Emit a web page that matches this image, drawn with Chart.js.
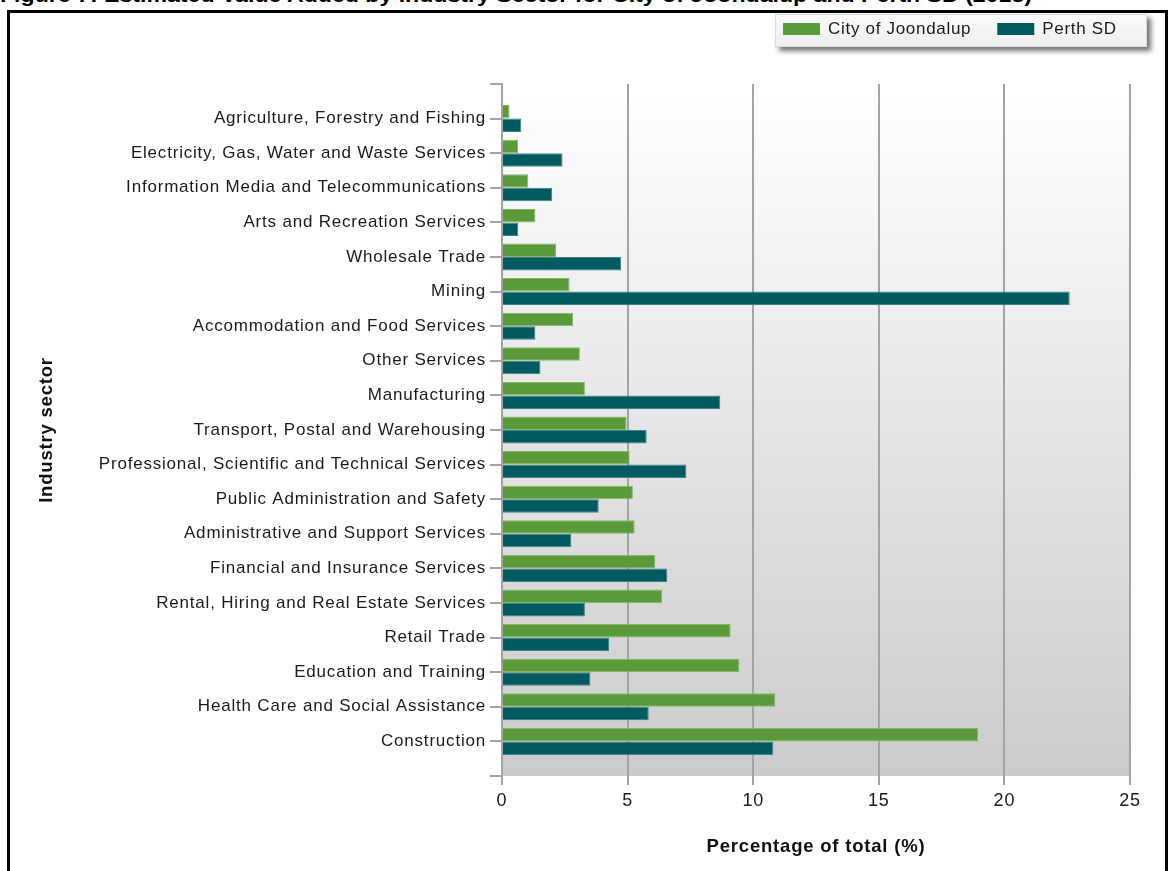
<!DOCTYPE html>
<html>
<head>
<meta charset="utf-8">
<title>Estimated Value Added by Industry Sector</title>
<script src="https://cdn.jsdelivr.net/npm/chart.js@4.4.1/dist/chart.umd.min.js"></script>
<style>
  html, body { margin: 0; padding: 0; background: #ffffff; }
  #wrap { position: relative; width: 1170px; height: 871px; overflow: hidden; }
  #heading {
    position: absolute; left: 0; top: -16px;
    font: bold 20px "Liberation Sans", Arial, sans-serif;
    white-space: nowrap; transform-origin: 0 0; color: #000;
  }
  #frame {
    position: absolute; left: 7px; top: 10px;
    width: 1155px; height: 900px; border: 3px solid #000;
  }
  #chart { position: absolute; left: 0; top: 0; }
</style>
</head>
<body>
<div id="wrap">
  <div id="heading">Figure 7: Estimated Value Added by Industry Sector for City of Joondalup and Perth SD (2013)</div>
  <div id="frame"></div>
  <canvas id="chart" width="1170" height="871"></canvas>
</div>
<script>
// Industry sectors, top to bottom
const categories = [
  'Agriculture, Forestry and Fishing',
  'Electricity, Gas, Water and Waste Services',
  'Information Media and Telecommunications',
  'Arts and Recreation Services',
  'Wholesale Trade',
  'Mining',
  'Accommodation and Food Services',
  'Other Services',
  'Manufacturing',
  'Transport, Postal and Warehousing',
  'Professional, Scientific and Technical Services',
  'Public Administration and Safety',
  'Administrative and Support Services',
  'Financial and Insurance Services',
  'Rental, Hiring and Real Estate Services',
  'Retail Trade',
  'Education and Training',
  'Health Care and Social Assistance',
  'Construction'
];

// Share of total value added (%)
const joondalup = [0.30, 0.64, 1.05, 1.33, 2.15, 2.69, 2.83, 3.10, 3.30, 4.96, 5.08, 5.21, 5.28, 6.10, 6.38, 9.10, 9.45, 10.88, 18.95];
const perthSD   = [0.77, 2.41, 2.00, 0.65, 4.74, 22.60, 1.33, 1.53, 8.69, 5.76, 7.34, 3.85, 2.76, 6.58, 3.30, 4.26, 3.52, 5.84, 10.80];

const seriesNames  = ['City of Joondalup', 'Perth SD'];
const seriesColors = ['#5b9a3a', '#005a60'];
const seriesEdges  = ['#84b866', '#3d8286'];

const xTicks = [0, 5, 10, 15, 20, 25];

const FONT = '"Liberation Sans", Arial, sans-serif';
Chart.defaults.font.family = FONT;

const toPoints = vals => vals.map((v, i) => ({ x: v, y: i }));

// Vertical grey gradient behind the plot area
const plotShade = {
  id: 'plotShade',
  beforeDraw(chart) {
    const { ctx, chartArea: a } = chart;
    ctx.letterSpacing = '0.8px';
    const g = ctx.createLinearGradient(0, a.top, 0, a.bottom);
    g.addColorStop(0, '#ffffff');
    g.addColorStop(1, '#cbcbcb');
    ctx.save();
    ctx.fillStyle = g;
    ctx.fillRect(a.left, a.top, a.right - a.left, a.bottom - a.top);
    ctx.restore();
  }
};

// Legend panel with drop shadow, top right
const legendPanel = {
  id: 'legendPanel',
  afterDraw(chart) {
    const ctx = chart.ctx;
    const box = { x: 775, y: 14, w: 372, h: 33 };
    ctx.save();
    ctx.shadowColor = 'rgba(0,0,0,0.55)';
    ctx.shadowBlur = 5;
    ctx.shadowOffsetX = 4;
    ctx.shadowOffsetY = 4;
    ctx.fillStyle = '#f2f2f2';
    ctx.fillRect(box.x, box.y, box.w, box.h);
    ctx.restore();

    ctx.save();
    const g = ctx.createLinearGradient(0, box.y, 0, box.y + box.h);
    g.addColorStop(0, '#fbfbfb');
    g.addColorStop(1, '#eeeeee');
    ctx.fillStyle = g;
    ctx.fillRect(box.x, box.y, box.w, box.h);
    ctx.strokeStyle = '#dadada';
    ctx.lineWidth = 1;
    ctx.strokeRect(box.x + 0.5, box.y + 0.5, box.w - 1, box.h - 1);

    ctx.font = '17px ' + FONT;
    ctx.letterSpacing = '0.7px';
    ctx.textBaseline = 'middle';
    ctx.textAlign = 'left';
    let x = box.x + 8;
    chart.data.datasets.forEach(ds => {
      ctx.fillStyle = ds.backgroundColor;
      ctx.fillRect(x, 23, 37, 12);
      ctx.fillStyle = '#1a1a1a';
      ctx.fillText(ds.label, x + 45, 29.5);
      x += 45 + ctx.measureText(ds.label).width + 26;
    });
    ctx.restore();
  }
};

new Chart(document.getElementById('chart'), {
  type: 'bar',
  data: {
    datasets: [
      { label: seriesNames[0], data: toPoints(joondalup), backgroundColor: seriesColors[0], borderColor: seriesEdges[0], borderWidth: 1 },
      { label: seriesNames[1], data: toPoints(perthSD),   backgroundColor: seriesColors[1], borderColor: seriesEdges[1], borderWidth: 1 }
    ]
  },
  options: {
    responsive: false,
    animation: false,
    indexAxis: 'y',
    layout: { padding: { top: 84, right: 40, left: 0, bottom: 0 } },
    datasets: { bar: { categoryPercentage: 0.78, barPercentage: 1 } },
    plugins: { legend: { display: false }, tooltip: { enabled: false } },
    scales: {
      x: {
        type: 'linear',
        position: 'bottom',
        min: 0,
        max: 25,
        afterFit(s) { s.height = 95; },
        afterBuildTicks(s) { s.ticks = xTicks.map(v => ({ value: v })); },
        ticks: { font: { size: 18 }, color: '#1a1a1a', padding: 5 },
        grid: { color: '#a3a3a3', lineWidth: 2, tickLength: 9 },
        border: { display: false },
        title: {
          display: true, text: 'Percentage of total (%)', color: '#111',
          font: { size: 18.5, weight: 'bold' }, padding: { top: 0, bottom: 13 }
        }
      },
      y: {
        type: 'linear',
        position: 'left',
        offset: false,
        min: -1,
        max: categories.length,
        reverse: true,
        afterFit(s) { s.width = 502; },
        afterBuildTicks(s) {
          const t = [];
          for (let i = -1; i <= categories.length; i++) t.push({ value: i });
          s.ticks = t;
        },
        ticks: {
          autoSkip: false,
          callback: v => categories[v] ?? '',
          font: { size: 17 }, color: '#1a1a1a', padding: 4
        },
        grid: { offset: false, drawOnChartArea: false, color: '#a3a3a3', lineWidth: 2, tickLength: 12 },
        border: { color: '#a3a3a3', width: 2 },
        title: {
          display: true, text: 'Industry sector', color: '#111',
          font: { size: 18.5, weight: 'bold' }, padding: { top: 36, bottom: 0 }
        }
      }
    }
  },
  plugins: [plotShade, legendPanel]
});

// Stretch the heading line to the width of the figure
const heading = document.getElementById('heading');
const hw = heading.getBoundingClientRect().width;
heading.style.transform = 'scaleX(' + (1032 / hw) + ')';
</script>
</body>
</html>
